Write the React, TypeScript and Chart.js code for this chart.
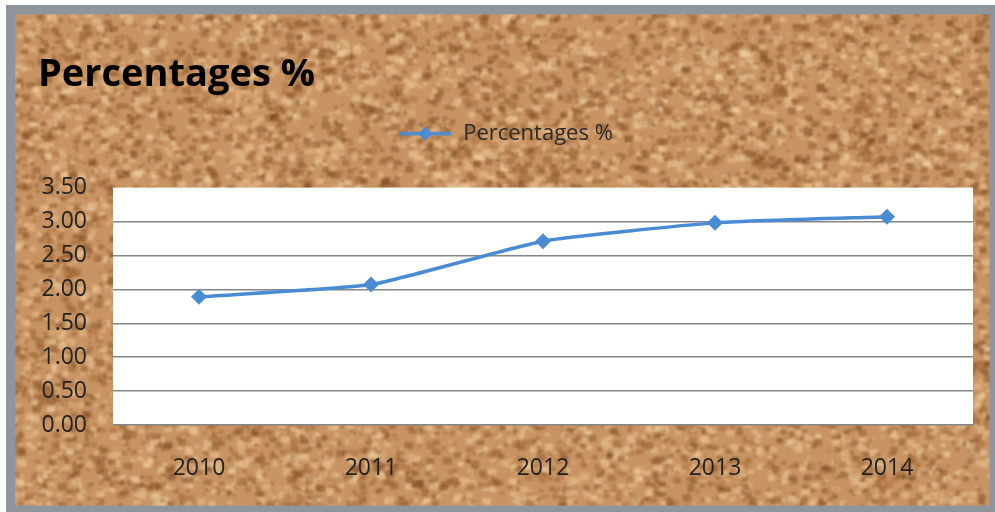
import React, { useEffect, useRef } from "react";
import { Chart, registerables } from "chart.js";

Chart.register(...registerables);

const categories = ["2010", "2011", "2012", "2013", "2014"];
const seriesName = "Percentages %";
const values = [1.89, 2.07, 2.71, 2.98, 3.07];
const yTicks = [0, 0.5, 1, 1.5, 2, 2.5, 3, 3.5];
const titleText = "Percentages %";

const LINE_COLOR = "#4a8cd4";
const FONT = "'Open Sans', 'Liberation Sans', sans-serif";

function makeCork(w: number, h: number): HTMLCanvasElement {
  const tmp = document.createElement("canvas");
  tmp.width = w;
  tmp.height = h;
  const g = tmp.getContext("2d")!;
  let s = 12345;
  const rnd = () => {
    s = (s + 0x6d2b79f5) | 0;
    let t = Math.imul(s ^ (s >>> 15), 1 | s);
    t = (t + Math.imul(t ^ (t >>> 7), 61 | t)) ^ t;
    return ((t ^ (t >>> 14)) >>> 0) / 4294967296;
  };
  g.fillStyle = "#c99463";
  g.fillRect(0, 0, w, h);
  const palette = [
    "rgba(130,75,30,0.4)",
    "rgba(155,95,45,0.4)",
    "rgba(235,195,145,0.5)",
    "rgba(245,214,170,0.45)",
    "rgba(105,58,20,0.35)",
  ];
  const n = Math.floor((w * h) / 42);
  for (let i = 0; i < n; i++) {
    const x = rnd() * w;
    const y = rnd() * h;
    const r = 1.2 + rnd() * 3.4;
    g.fillStyle = palette[Math.floor(rnd() * palette.length)];
    g.fillRect(x - r, y - r * 0.8, r * 2, r * 1.6);
  }
  const out = document.createElement("canvas");
  out.width = w;
  out.height = h;
  const o = out.getContext("2d")!;
  o.filter = "blur(1px)";
  o.drawImage(tmp, 0, 0);
  o.filter = "none";
  return out;
}

function makeLegendIcon(): HTMLCanvasElement {
  const c = document.createElement("canvas");
  c.width = 54;
  c.height = 18;
  const g = c.getContext("2d")!;
  g.strokeStyle = LINE_COLOR;
  g.lineWidth = 3.5;
  g.beginPath();
  g.moveTo(1, 9);
  g.lineTo(53, 9);
  g.stroke();
  g.fillStyle = LINE_COLOR;
  g.beginPath();
  g.moveTo(27, 2);
  g.lineTo(34, 9);
  g.lineTo(27, 16);
  g.lineTo(20, 9);
  g.closePath();
  g.fill();
  return c;
}

export default function App() {
  const ref = useRef<HTMLCanvasElement | null>(null);

  useEffect(() => {
    if (!ref.current) return;
    const cork = makeCork(975, 492);
    const legendIcon = makeLegendIcon();

    const bgPlugin = {
      id: "corkBg",
      beforeUpdate(chart: any) {
        const lg = chart.legend;
        if (lg && !lg.__patched) {
          const orig = lg.fit.bind(lg);
          lg.fit = function () {
            orig();
            this.height += 33;
          };
          lg.__patched = true;
        }
      },
      beforeDraw(chart: any) {
        const { ctx, chartArea } = chart;
        ctx.save();
        ctx.fillStyle = "#ffffff";
        ctx.fillRect(0, 0, chart.width, chart.height);
        ctx.fillStyle = "#8f959c";
        ctx.fillRect(6, 5, 989, 507);
        ctx.drawImage(cork, 15, 14);
        ctx.fillStyle = "#ffffff";
        ctx.fillRect(chartArea.left, chartArea.top, chartArea.right - chartArea.left, chartArea.bottom - chartArea.top);
        ctx.restore();
      },
    };

    const chart = new Chart(ref.current, {
      type: "line",
      data: {
        labels: categories,
        datasets: [
          {
            label: seriesName,
            data: values,
            borderColor: LINE_COLOR,
            backgroundColor: LINE_COLOR,
            borderWidth: 3.5,
            pointStyle: "rectRot",
            pointRadius: 8,
            pointBackgroundColor: LINE_COLOR,
            pointBorderColor: LINE_COLOR,
            pointBorderWidth: 0,
            tension: 0.15,
          },
        ],
      },
      options: {
        animation: false,
        responsive: false,
        layout: { padding: { left: 38, right: 22, top: 22, bottom: 27 } },
        plugins: {
          tooltip: { enabled: false },
          title: {
            display: true,
            text: titleText,
            align: "start",
            color: "#000000",
            font: { family: FONT, size: 38, weight: "bold" },
            padding: { top: 30, bottom: 15 },
          },
          legend: {
            display: true,
            position: "top",
            labels: {
              color: "#2a2a2a",
              font: { family: FONT, size: 22 },
              usePointStyle: true,
              pointStyleWidth: 54,
              padding: 10,
              generateLabels: (c: any) => {
                const items = (Chart.defaults.plugins.legend.labels.generateLabels as any)(c);
                items.forEach((it: any) => {
                  it.pointStyle = legendIcon;
                });
                return items;
              },
            },
          },
        },
        scales: {
          x: {
            offset: true,
            grid: { display: false, drawTicks: false },
            border: { display: false },
            ticks: { color: "#222222", font: { family: FONT, size: 23 }, padding: 30 },
            afterFit: (s: any) => {
              s.height = 60;
            },
          },
          y: {
            min: 0,
            max: 3.5,
            afterBuildTicks: (s: any) => {
              s.ticks = yTicks.map((v) => ({ value: v }));
            },
            grid: {
              drawTicks: false,
              color: (c: any) => (c.tick && c.tick.value === 3.5 ? "rgba(0,0,0,0)" : "#868686"),
              lineWidth: 1.5,
            },
            border: { display: false },
            ticks: {
              color: "#222222",
              font: { family: FONT, size: 23 },
              padding: 26,
              callback: (v: any) => Number(v).toFixed(2),
            },
            afterFit: (s: any) => {
              s.width = 75;
            },
          },
        },
      },
      plugins: [bgPlugin],
    } as any);

    return () => chart.destroy();
  }, []);

  return (
    <div style={{ position: "absolute", left: 0, top: 0, width: 995, height: 512 }}>
      <canvas ref={ref} width={995} height={512} style={{ width: 995, height: 512, display: "block" }} />
    </div>
  );
}
